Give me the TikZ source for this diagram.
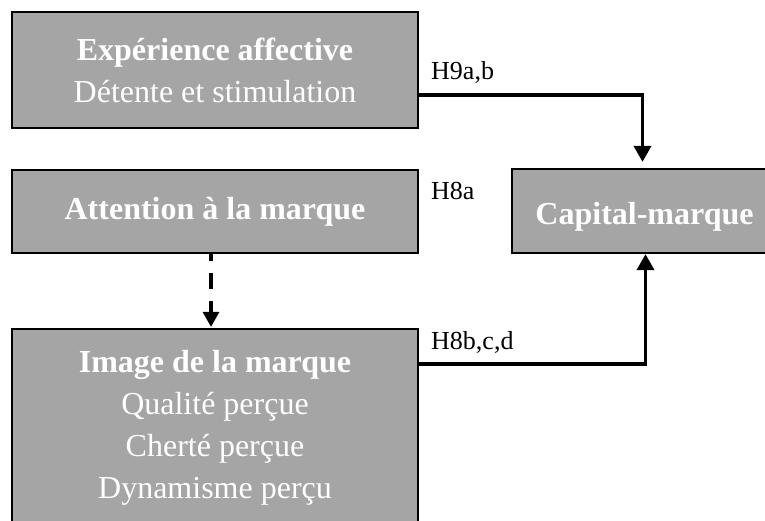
\documentclass[tikz,border=0pt]{standalone}
\usepackage{fontspec}
\setmainfont{Liberation Serif}
\usetikzlibrary{arrows.meta}
\definecolor{boxgray}{HTML}{A5A5A5}
\begin{document}
\begin{tikzpicture}[x=1pt,y=1pt,
  box/.style={draw=black, line width=2.2pt, fill=boxgray, text=white, align=center, inner sep=0pt, font=\fontsize{32}{42}\selectfont},
  lab/.style={anchor=base west, inner sep=0pt, font=\fontsize{26}{30}\selectfont},
  arr/.style={line width=3.5pt, -{Triangle[length=16pt,width=17pt]}},
  darr/.style={line width=3.2pt, dash pattern=on 16pt off 12pt, dash phase=9pt, -{Triangle[length=15pt,width=16pt]}}]
\useasboundingbox (0,0) rectangle (765,-521);
\clip (0,0) rectangle (765,-521);
\node[box, minimum width=406pt, minimum height=116pt] (exp) at (215,-70) {\textbf{Expérience affective}\\Détente et stimulation};
\node[box, minimum width=406pt, minimum height=83pt, text height=17pt, text depth=0pt] (att) at (215,-211.5) {\textbf{Attention à la marque}};
\node[box, minimum width=406pt, minimum height=198pt] (img) at (215,-428) {\textbf{Image de la marque}\\Qualité perçue\\Cherté perçue\\Dynamisme perçu};
\node[box, minimum width=265pt, minimum height=84pt, text height=28pt, text depth=0pt] (cap) at (644.5,-211) {\textbf{Capital-marque}};
\node[lab] (h9) at (431,-80) {H9a,b};
\node[lab] (h8a) at (431,-200) {H8a};
\node[lab] (h8b) at (431,-349) {H8b,c,d};
\draw[arr, shorten >=6pt] ([yshift=-25pt]exp.east) -| ([xshift=-2pt]cap.north);
\draw[arr] ([yshift=64pt]img.east) -| ([xshift=1pt]cap.south);
\draw[darr] ([xshift=-4pt]att.south) -- ([xshift=-4pt,yshift=1pt]img.north);
\end{tikzpicture}
\end{document}
